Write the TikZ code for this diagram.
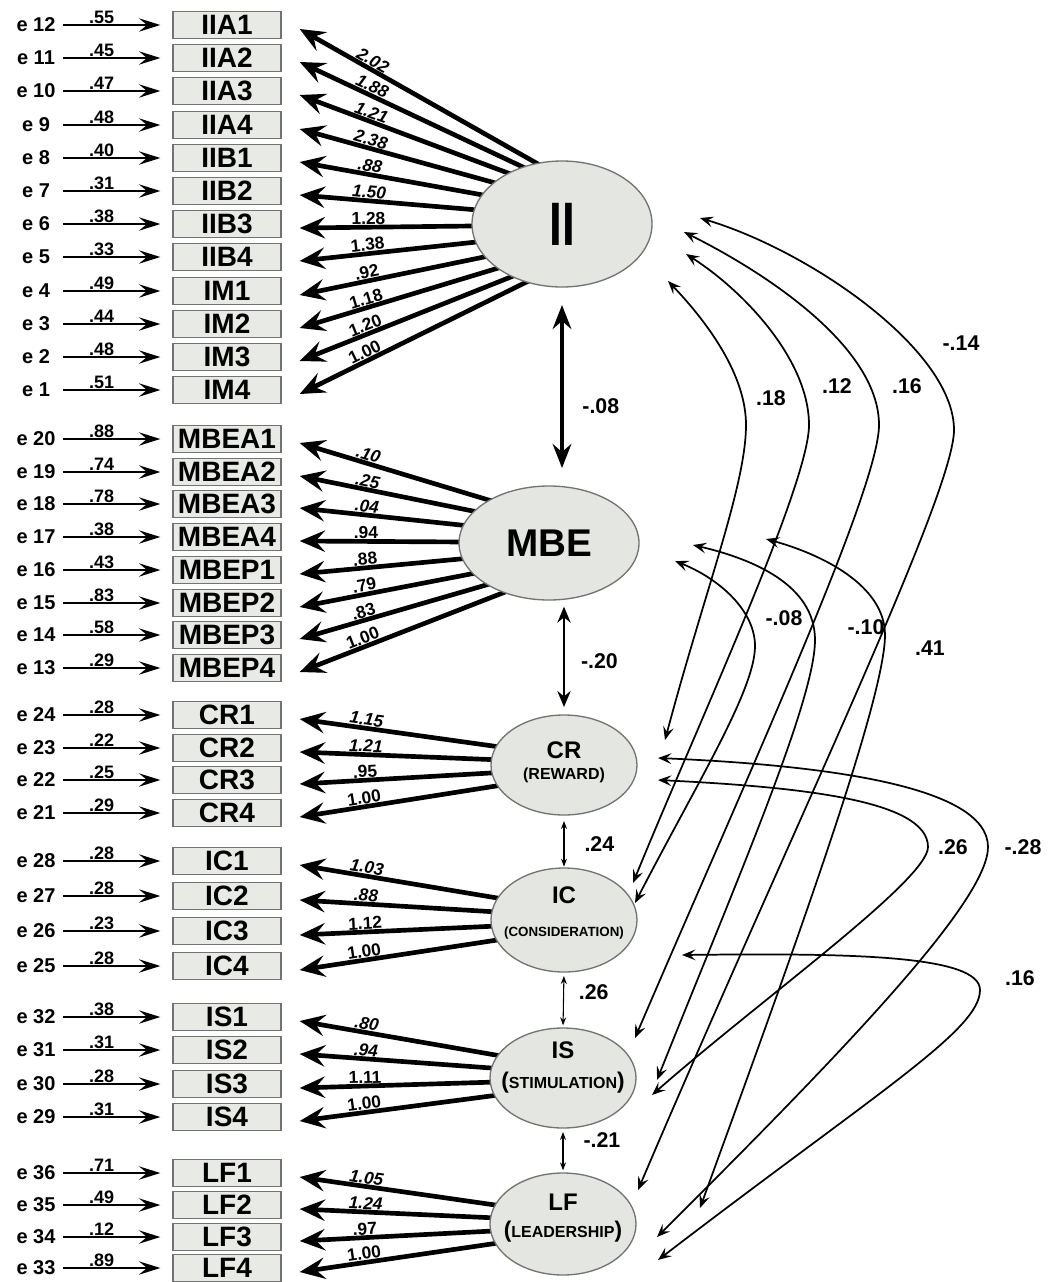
\documentclass[tikz,border=0pt]{standalone}
\usepackage{fontspec}
\setmainfont{Liberation Sans}
\usetikzlibrary{shapes, arrows.meta, positioning, calc, backgrounds}

\definecolor{latfill}{RGB}{228,230,225}
\definecolor{obsfill}{RGB}{232,234,229}
\definecolor{rimgray}{RGB}{115,115,115}

\newcommand{\bigpar}[1]{{\fontsize{17}{17}\selectfont #1}}

\tikzset{
  obs/.style={draw=rimgray, fill=obsfill, line width=1pt, minimum width=81pt,
    minimum height=20pt, inner sep=0pt, font=\fontsize{21}{21}\selectfont\bfseries},
  lat/.style={ellipse, draw=rimgray, fill=latfill, line width=1pt, inner sep=0pt, outer sep=0pt},
  latname/.style={inner sep=0pt, font=\fontsize{18}{18}\selectfont\bfseries},
  latsub/.style={inner sep=0pt, font=\fontsize{12}{12}\selectfont\bfseries},
  err/.style={minimum width=36pt, inner sep=0pt, font=\fontsize{15}{15}\selectfont\bfseries},
  wgt/.style={inner sep=0.5pt, font=\fontsize{13.5}{13.5}\selectfont\bfseries},
  ldlab/.style={inner sep=0.3pt, font=\fontsize{13}{13}\selectfont\bfseries},
  crlab/.style={inner sep=0pt, font=\fontsize{16}{16}\selectfont\bfseries},
  eline/.style={line width=1.3pt, -{Stealth[length=16pt,width=10pt,inset=6pt]},
    shorten <=2pt, shorten >=9pt},
  load/.style={line width=3.5pt, -{Stealth[length=19pt,width=16pt,inset=7pt]}},
  corr/.style={line width=1.3pt,
    {Stealth[length=10pt,width=8pt,inset=4pt]}-{Stealth[length=10pt,width=8pt,inset=4pt]}},
  bigcov/.style={line width=2.6pt, {Stealth[length=18pt,width=14pt,inset=6pt]}-{Stealth[length=18pt,width=14pt,inset=6pt]}},
  midcov/.style={line width=1.5pt, {Stealth[length=12pt,width=10pt,inset=4pt]}-{Stealth[length=12pt,width=10pt,inset=4pt]}},
  smallcov/.style={line width=0.8pt, {Stealth[length=6pt,width=4.5pt,inset=2pt]}-{Stealth[length=6pt,width=4.5pt,inset=2pt]}},
}

\begin{document}
\begin{tikzpicture}[x=0.75pt, y=-0.75pt]
  \useasboundingbox (0,0) rectangle (1049,1282);

  % latent factors
  \node[lat, minimum width=135pt, minimum height=94.5pt] (II) at (562,224) {};
  \node[font=\fontsize{46}{46}\selectfont\bfseries, inner sep=0pt] (IIname) at (II) {\scalebox{0.75}[1]{II}};
  \node[lat, minimum width=135pt, minimum height=85.5pt] (MBE) at (549,543) {};
  \node[font=\fontsize{29}{29}\selectfont\bfseries, inner sep=0pt] (MBEname) at (MBE) {MBE};
  \node[lat, minimum width=109.5pt, minimum height=75pt] (CR) at (564,765) {};
  \node[latname] (CRname) at ($(CR)+(0,-15)$) {CR};
  \node[latsub] (CRsub) at ($(CR)+(0,10)$) {(REWARD)};
  \node[lat, minimum width=109.5pt, minimum height=78pt] (IC) at (564,920) {};
  \node[latname] (ICname) at ($(IC)+(0,-25)$) {IC};
  \node[latsub, font=\fontsize{10}{10}\selectfont\bfseries] (ICsub) at ($(IC)+(0,13)$) {(CONSIDERATION)};
  \node[lat, minimum width=109.5pt, minimum height=75pt] (IS) at (563,1078) {};
  \node[latname] (ISname) at ($(IS)+(0,-28)$) {IS};
  \node[latsub] (ISsub) at ($(IS)+(0,5)$) {\bigpar(STIMULATION\bigpar)};
  \node[lat, minimum width=109.5pt, minimum height=76.5pt] (LF) at (563,1224) {};
  \node[latname] (LFname) at ($(LF)+(0,-22)$) {LF};
  \node[latsub] (LFsub) at ($(LF)+(0,8)$) {\bigpar(LEADERSHIP\bigpar)};

  % indicators, errors and loadings
  \foreach \lv/\nm/\ev/\wt/\ld/\y in {
      II/IIA1/12/.55/\textit{2.02}/25, II/IIA2/11/.45/\textit{1.88}/58,
      II/IIA3/10/.47/\textit{1.21}/91, II/IIA4/9/.48/\textit{2.38}/125,
      II/IIB1/8/.40/\textit{.88}/158, II/IIB2/7/.31/\textit{1.50}/191,
      II/IIB3/6/.38/1.28/224, II/IIB4/5/.33/1.38/257,
      II/IM1/4/.49/.92/291, II/IM2/3/.44/1.18/324,
      II/IM3/2/.48/1.20/357, II/IM4/1/.51/1.00/390,
      MBE/MBEA1/20/.88/\textit{.10}/439, MBE/MBEA2/19/.74/\textit{.25}/472,
      MBE/MBEA3/18/.78/\textit{.04}/504, MBE/MBEA4/17/.38/.94/537,
      MBE/MBEP1/16/.43/.88/570, MBE/MBEP2/15/.83/.79/603,
      MBE/MBEP3/14/.58/.83/635, MBE/MBEP4/13/.29/1.00/668,
      CR/CR1/24/.28/\textit{1.15}/715, CR/CR2/23/.22/\textit{1.21}/748,
      CR/CR3/22/.25/.95/780, CR/CR4/21/.29/1.00/813,
      IC/IC1/28/.28/\textit{1.03}/861, IC/IC2/27/.28/\textit{.88}/896,
      IC/IC3/26/.23/1.12/931, IC/IC4/25/.28/1.00/966,
      IS/IS1/32/.38/\textit{.80}/1017, IS/IS2/31/.31/\textit{.94}/1050,
      IS/IS3/30/.28/1.11/1084, IS/IS4/29/.31/1.00/1117,
      LF/LF1/36/.71/\textit{1.05}/1173, LF/LF2/35/.49/\textit{1.24}/1205,
      LF/LF3/34/.12/.97/1237, LF/LF4/33/.89/1.00/1268}{
    \node[obs] (\nm) at (227,\y) {\nm};
    \node[err] (e\ev) at (36,\y) {e \ev};
    \draw[eline] (e\ev) -- (\nm) node[wgt, above, pos=0.37] (w\ev) {\wt};
    \coordinate (t\nm) at ($(\nm.east)+(18,4)$);
    \begin{pgfonlayer}{background}
      \draw[load] ($(\lv.east)+(-8,0)$) -- (t\nm) node[ldlab, above, sloped, pos=0.8] (l\nm) {\ld};
    \end{pgfonlayer}
  }

  % covariances between neighbouring factors
  \draw[bigcov, shorten <=13.5pt, shorten >=13.5pt] (II.south) -- (II.south |- MBE.north)
    node[crlab, right=14pt, pos=0.6] (cIIMBE) {-.08};
  \draw[midcov, shorten <=5pt, shorten >=6pt] (CR.north |- MBE.south) -- (CR.north)
    node[crlab, right=12pt, pos=0.53] (cMBECR) {-.20};
  \draw[smallcov, shorten <=4.5pt, shorten >=1pt] (CR.south) -- (IC.north)
    node[crlab, right=15pt, pos=0.55] (cCRIC) {.24};
  \draw[smallcov, shorten <=3pt, shorten >=2pt] (IC.south) -- (IS.north)
    node[crlab, right=11pt, pos=0.36] (cICIS) {.26};
  \draw[smallcov, shorten <=3pt, shorten >=2pt] (IS.south) -- (LF.north)
    node[crlab, right=15pt, pos=0.27] (cISLF) {-.21};

  % ends of the long covariance curves
  \coordinate (IIc1) at (700,218);
  \coordinate (IIc2) at (684,232);
  \coordinate (IIc3) at (686,254);
  \coordinate (IIc4) at (668,281);
  \coordinate (MBEc1) at (766,539);
  \coordinate (MBEc2) at (693,545);
  \coordinate (MBEc3) at (675,561);
  \coordinate (CRc1) at (665,740);
  \coordinate (CRc2) at (658,758);
  \coordinate (CRc3) at (658,780);
  \coordinate (ICc1) at (633,883);
  \coordinate (ICc2) at (635,903);
  \coordinate (ICc3) at (682,955);
  \coordinate (ISc1) at (635,1038);
  \coordinate (ISc2) at (657,1080);
  \coordinate (ISc3) at (652,1095);
  \coordinate (LFc1) at (638,1190);
  \coordinate (LFc2) at (700,1208);
  \coordinate (LFc3) at (657,1237);
  \coordinate (LFc4) at (658,1260);

  \draw[corr] (IIc4) .. controls (708,323) and (746,375) .. (746,425) .. controls (746,485) and (705,590) .. (CRc1);
  \draw[corr] (IIc3) .. controls (744,291) and (809,360) .. (809,425) .. controls (809,485) and (694,733) .. (ICc1);
  \draw[corr] (IIc2) .. controls (774,277) and (879,350) .. (879,425) .. controls (879,490) and (742,788) .. (ISc1);
  \draw[corr] (IIc1) .. controls (810,251) and (954,350) .. (954,430) .. controls (954,495) and (787,840) .. (LFc1);
  \draw[corr] (MBEc3) .. controls (720,579) and (755,611) .. (755,646) .. controls (755,690) and (697,783) .. (ICc2);
  \draw[corr] (MBEc2) .. controls (753,559) and (815,585) .. (815,640) .. controls (815,700) and (737,880) .. (ISc2);
  \draw[corr] (MBEc1) .. controls (821,554) and (885,585) .. (885,635) .. controls (885,700) and (791,958) .. (LFc2);
  \draw[corr] (CRc3) .. controls (800,787) and (928,800) .. (928,847) .. controls (928,880) and (760,1000) .. (ISc3);
  \draw[corr] (CRc2) .. controls (820,765) and (988,785) .. (988,847) .. controls (988,900) and (850,1045) .. (LFc3);
  \draw[corr] (ICc3) .. controls (850,953) and (980,955) .. (980,990) .. controls (980,1030) and (880,1090) .. (LFc4);

  % covariance values
  \node[crlab] (r18) at (771,398) {.18};
  \node[crlab] (r12) at (837,386) {.12};
  \node[crlab] (r16) at (907,386) {.16};
  \node[crlab] (r14) at (961,343) {-.14};
  \node[crlab] (r08) at (784,618) {-.08};
  \node[crlab] (r10) at (866,627) {-.10};
  \node[crlab] (r41) at (930,648) {.41};
  \node[crlab] (r26) at (953,847) {.26};
  \node[crlab] (r28) at (1023,847) {-.28};
  \node[crlab] (r16b) at (1020,978) {.16};
\end{tikzpicture}
\end{document}
